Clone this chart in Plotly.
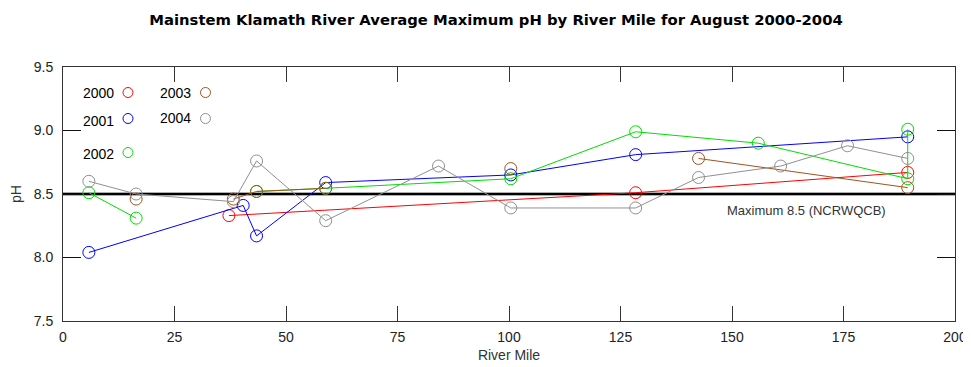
import plotly.graph_objects as go

# ---- data ----
rm_2000 = [37.2, 128.4, 189.4]
ph_2000 = [8.33, 8.51, 8.67]

rm_2001 = [5.8, 40.4, 43.4, 58.9, 100.4, 128.4, 189.4]
ph_2001 = [8.04, 8.41, 8.17, 8.59, 8.65, 8.81, 8.95]

rm_2002 = [5.8, 16.4, None, 43.4, 58.9, 100.4, 128.4, 155.9, 189.4, 189.4]
ph_2002 = [8.51, 8.31, None, 8.52, 8.545, 8.62, 8.99, 8.90, 8.62, 9.01]

rm_2003 = [16.4, None, 38.2, 43.4, 58.9, None, 100.4, None, 142.5, 189.4]
ph_2003 = [8.46, None, 8.46, 8.52, 8.545, None, 8.70, None, 8.78, 8.55]

rm_2004 = [5.8, 16.4, 38.2, 43.4, 58.9, 84.2, 100.4, 128.4, 142.5, 160.9, 175.9, 189.4]
ph_2004 = [8.60, 8.50, 8.44, 8.76, 8.29, 8.72, 8.39, 8.39, 8.63, 8.72, 8.88, 8.78]

threshold = 8.5
threshold_label = "Maximum 8.5 (NCRWQCB)"
years = ["2000", "2001", "2002", "2003", "2004"]
colors = ["#ff0000", "#0000ff", "#00dd00", "#a0521e", "#909090"]

series = [(rm_2000, ph_2000), (rm_2001, ph_2001), (rm_2002, ph_2002),
          (rm_2003, ph_2003), (rm_2004, ph_2004)]

fig = go.Figure()

# threshold line (under data)
fig.add_shape(type="line", xref="paper", x0=0, x1=1, yref="y", y0=threshold, y1=threshold,
              line=dict(color="rgba(120,120,120,0.6)", width=4), layer="below")
fig.add_shape(type="line", xref="paper", x0=0, x1=1, yref="y", y0=threshold, y1=threshold,
              line=dict(color="black", width=2), layer="below")

for (x, y), yr, c in zip(series, years, colors):
    fig.add_trace(go.Scatter(
        x=x, y=y, mode="lines+markers", name=yr, connectgaps=False,
        line=dict(color=c, width=1),
        marker=dict(symbol="circle-open", size=12, color=c, line=dict(width=1)),
        showlegend=False,
    ))

fig.add_annotation(x=166.6, y=8.37, xref="x", yref="y", text=threshold_label,
                   showarrow=False, font=dict(family="Liberation Sans, Arial", size=13, color="#333333"))

# custom legend (positions in reference page pixels, converted to paper coords)
W, H = 892.0, 254.0
def px(xp):
    return (xp - 63) / W
def py(yp):
    return (321 - yp) / H

legend_pos = {
    "2000": (98, 93, 128, 92.5),
    "2001": (98, 121, 128, 118.5),
    "2002": (98, 154, 128, 152.5),
    "2003": (175.5, 93, 205.5, 92.5),
    "2004": (175.5, 118, 205.5, 118.5),
}
for yr, c in zip(years, colors):
    tx, ty, cx, cy = legend_pos[yr]
    fig.add_annotation(x=px(tx), y=py(ty), xref="paper", yref="paper", text=yr,
                       showarrow=False, xanchor="center", yanchor="middle",
                       font=dict(family="Liberation Sans, Arial", size=14, color="black"))
    fig.add_shape(type="circle", xref="paper", yref="paper", xsizemode="pixel", ysizemode="pixel",
                  xanchor=px(cx), yanchor=py(cy), x0=-5, x1=5, y0=-5, y1=5,
                  line=dict(color=c, width=1))

# small black mark outside the plot on the right
fig.add_shape(type="rect", xref="paper", yref="paper", xsizemode="pixel", ysizemode="pixel",
              xanchor=px(968.5), yanchor=py(177), x0=-1.5, x1=1.5, y0=-3, y1=3,
              fillcolor="black", line=dict(width=0))

FW, FH = 963, 359  # page has an 8px body margin
tickfont = dict(family="Liberation Sans Narrow, Arial Narrow, Liberation Sans", size=14, color="#222222")
fig.update_layout(
    width=FW, height=FH,
    margin=dict(l=55, r=16, t=59, b=46, autoexpand=False),
    paper_bgcolor="white", plot_bgcolor="white",
    title=dict(text="<b>Mainstem Klamath River Average Maximum pH by River Mile for August 2000-2004</b>",
               x=488 / FW, xref="container", xanchor="center",
               y=1 - 12 / FH, yanchor="middle", yref="container",
               font=dict(family="DejaVu Sans, Verdana", size=14.8, color="black")),
    xaxis=dict(range=[0, 200], tickvals=[0, 25, 50, 75, 100, 125, 150, 175, 200],
               ticktext=["0", "25", "50", "75", "100", "125", "150", "175", "200"],
               ticks="inside", ticklen=15, tickcolor="#333333", tickwidth=1,
               showline=True, linecolor="#333333", linewidth=1, mirror="ticks",
               showgrid=False, zeroline=False, tickfont=tickfont, automargin=False,
               ticklabelstandoff=3,
               title=dict(text="River Mile", font=dict(family="Liberation Sans Narrow, Liberation Sans", size=14, color="#333333"), standoff=6)),
    yaxis=dict(range=[7.5, 9.5], tickvals=[7.5, 8.0, 8.5, 9.0, 9.5],
               ticktext=["7.5", "8.0", "8.5", "9.0", "9.5"],
               ticks="inside", ticklen=18, tickcolor="#111111", tickwidth=1,
               showline=True, linecolor="#333333", linewidth=1, mirror="ticks",
               showgrid=False, zeroline=False, tickfont=tickfont, automargin=False,
               ticklabelstandoff=6,
               title=dict(text="pH", font=dict(family="Liberation Sans Narrow, Liberation Sans", size=14, color="#333333"), standoff=20)),
)

fig.write_html("out.html")
